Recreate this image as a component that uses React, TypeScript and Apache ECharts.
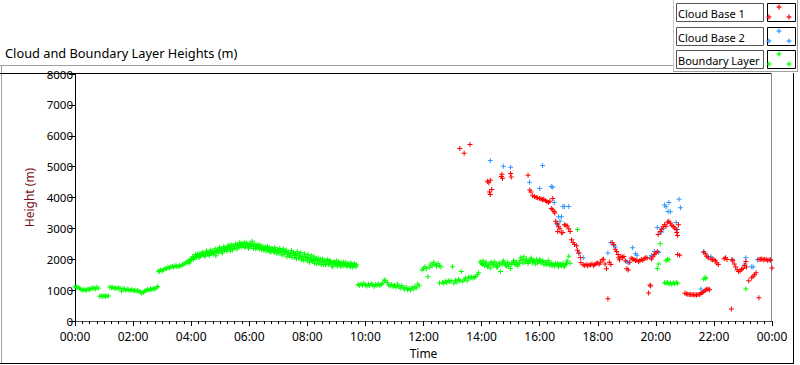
import React, { useEffect, useRef } from "react";
import * as echarts from "echarts";

// [hour of day, height in m]
const boundaryLayer: [number, number][] = [
  [0.0, 1110], [0.05, 1100], [0.1, 1090], [0.15, 1060], [0.2, 1040], [0.25, 1000], [0.3, 1020], [0.35, 990], [0.4, 1010], [0.45, 1030],
  [0.5, 1020], [0.55, 1050], [0.6, 1060], [0.65, 1070], [0.7, 1040], [0.75, 1090], [0.8, 1060],
  [0.85, 800], [0.9, 810], [0.95, 800], [1.0, 810], [1.05, 800], [1.1, 810], [1.15, 810],
  [1.2, 1100], [1.25, 1080], [1.3, 1090], [1.35, 1060], [1.4, 1070], [1.45, 1050], [1.5, 1070], [1.55, 1060], [1.6, 960], [1.65, 1050],
  [1.7, 1040], [1.75, 1000], [1.8, 1030], [1.85, 1010], [1.9, 990], [1.95, 1020], [2.0, 980], [2.05, 1000], [2.1, 970], [2.15, 990],
  [2.2, 960], [2.25, 940], [2.3, 900], [2.35, 930], [2.4, 970], [2.45, 990], [2.5, 1020], [2.55, 1000], [2.6, 1040], [2.65, 1010],
  [2.7, 1060], [2.75, 1040], [2.8, 1080], [2.85, 1120],
  [2.87, 1620], [2.9, 1600], [2.95, 1650], [3.0, 1620], [3.05, 1660], [3.1, 1700], [3.15, 1690], [3.2, 1740], [3.25, 1720], [3.3, 1760],
  [3.35, 1770], [3.4, 1740], [3.45, 1790], [3.5, 1770], [3.55, 1760], [3.6, 1800], [3.65, 1780], [3.7, 1820], [3.75, 1850], [3.8, 1880],
  [3.85, 1900], [3.9, 1950], [3.95, 1920], [4.0, 2000], [4.05, 2080], [4.1, 2050], [4.15, 2150], [4.2, 2120], [4.25, 2100], [4.3, 2170],
  [4.35, 2140], [4.4, 2200], [4.45, 2120], [4.5, 2180], [4.55, 2230], [4.6, 2160], [4.65, 2250], [4.7, 2190], [4.75, 2270], [4.8, 2220],
  [4.85, 2110], [4.9, 2300], [4.95, 2260], [5.0, 2330], [5.05, 2240], [5.1, 2350], [5.15, 2290], [5.2, 2380], [5.25, 2320], [5.3, 2410],
  [5.35, 2270], [5.4, 2360], [5.45, 2440], [5.5, 2350], [5.55, 2420], [5.6, 2480], [5.65, 2390], [5.7, 2460], [5.75, 2510], [5.8, 2430],
  [5.85, 2380], [5.9, 2530], [5.95, 2450], [6.0, 2400], [6.05, 2470], [6.1, 2580], [6.15, 2350], [6.2, 2440], [6.25, 2390], [6.3, 2480],
  [6.35, 2330], [6.4, 2420], [6.45, 2360], [6.5, 2300], [6.55, 2400], [6.6, 2340], [6.65, 2280], [6.7, 2380], [6.75, 2260], [6.8, 2330],
  [6.85, 2220], [6.9, 2300], [6.95, 2180], [7.0, 2270], [7.05, 2350], [7.1, 2200], [7.15, 2290], [7.2, 2160], [7.25, 2250], [7.3, 2080],
  [7.35, 2210], [7.4, 2130], [7.45, 2280], [7.5, 2180], [7.55, 2060], [7.6, 2150], [7.65, 2250], [7.7, 2040], [7.75, 2120], [7.8, 1980],
  [7.85, 2090], [7.9, 2180], [7.95, 2020], [8.0, 1940], [8.05, 2060], [8.1, 1990], [8.15, 2110], [8.2, 1960], [8.25, 1870], [8.3, 2030],
  [8.35, 1950], [8.4, 1880], [8.45, 2000], [8.5, 1920], [8.55, 1820], [8.6, 1960], [8.65, 1880], [8.7, 1990], [8.75, 1860], [8.8, 1920],
  [8.85, 1780], [8.9, 1900], [8.95, 1840], [9.0, 1950], [9.05, 1810], [9.1, 1880], [9.15, 1760], [9.2, 1850], [9.25, 1900], [9.3, 1820],
  [9.35, 1770], [9.4, 1860], [9.45, 1800], [9.5, 1880], [9.55, 1740], [9.6, 1830], [9.65, 1790], [9.7, 1820],
  [9.75, 1180], [9.8, 1150], [9.85, 1200], [9.9, 1160], [9.95, 1220], [10.0, 1170], [10.05, 1130], [10.1, 1190], [10.15, 1150], [10.2, 1210],
  [10.25, 1170], [10.3, 1120], [10.35, 1180], [10.4, 1160], [10.45, 1200], [10.5, 1140], [10.55, 1190], [10.6, 1230], [10.65, 1330], [10.7, 1300],
  [10.75, 1250], [10.8, 1170], [10.85, 1130], [10.9, 1180], [10.95, 1110], [11.0, 1150], [11.05, 1090], [11.1, 1200], [11.15, 1120], [11.2, 1060],
  [11.25, 1150], [11.3, 1080], [11.35, 1030], [11.4, 1100], [11.45, 1010], [11.5, 1050], [11.55, 1000], [11.6, 1080], [11.65, 1040], [11.7, 1120],
  [11.75, 1070], [11.8, 1200], [11.85, 1140], [11.95, 1650], [12.0, 1700], [12.05, 1760], [12.1, 1690], [12.15, 1430], [12.2, 1740], [12.25, 1850],
  [12.3, 1780], [12.35, 1900], [12.4, 1830], [12.45, 1770], [12.5, 1860], [12.55, 1800], [12.6, 1750], [12.55, 1230], [12.65, 1250], [12.7, 1220],
  [12.75, 1290], [12.8, 1240], [12.85, 1310], [12.9, 1270], [12.95, 1300], [13.0, 1760], [13.05, 1220], [13.1, 1320], [13.15, 1260], [13.2, 1350],
  [13.25, 1300], [13.3, 1600], [13.35, 1280], [13.4, 1340], [13.45, 1390], [13.5, 1300], [13.55, 1420], [13.6, 1400], [13.65, 1420], [13.7, 1390],
  [13.75, 1410], [13.8, 1440], [13.85, 1500], [13.9, 1560], [13.95, 1920], [14.0, 1860], [14.05, 1950], [14.1, 1800], [14.15, 1900], [14.2, 1760],
  [14.25, 1840], [14.3, 1720], [14.35, 1880], [14.4, 1790], [14.45, 1920], [14.5, 1850], [14.55, 1760], [14.6, 1890], [14.65, 1600], [14.7, 1820],
  [14.75, 1950], [14.8, 1870], [14.85, 1780], [14.9, 1900], [14.95, 1840], [15.0, 1700], [15.05, 1880], [15.1, 1950], [15.15, 1820], [15.2, 1900],
  [15.25, 1780], [15.3, 1870], [15.35, 2050], [15.4, 1980], [15.45, 2080], [15.5, 1900], [15.55, 2010], [15.6, 1860], [15.65, 1950], [15.7, 2040],
  [15.75, 1890], [15.8, 1970], [15.85, 1850], [15.9, 2000], [15.95, 1930], [16.0, 1980], [16.05, 1880], [16.1, 1950], [16.15, 1820], [16.2, 1900],
  [16.25, 1850], [16.3, 1960], [16.35, 1800], [16.4, 1870], [16.45, 1830], [16.5, 1780], [16.55, 1860], [16.6, 1810], [16.65, 1760], [16.7, 1850],
  [16.75, 1790], [16.8, 1870], [16.85, 1760], [16.9, 1830], [16.95, 1950], [17.0, 2100], [17.05, 1870], [17.3, 2960],
  [20.05, 1700], [20.1, 1850], [20.15, 2500], [20.35, 1950], [20.4, 2000], [20.45, 1980],
  [20.3, 1240], [20.35, 1220], [20.4, 1250], [20.45, 1200], [20.5, 1230], [20.55, 1190], [20.6, 1240], [20.65, 1210], [20.7, 1250], [20.75, 1220],
  [21.65, 1350], [21.7, 1420], [21.72, 1380], [23.1, 1040],
];

// second, interleaved set of boundary-layer retrievals (the scattered band)
const boundaryLayerScatter: [number, number][] = [
  [3.925, 1870], [3.975, 1980], [4.025, 2020], [4.075, 1990], [4.125, 2090], [4.175, 2060], [4.225, 2180], [4.275, 2050], [4.325, 2110],
  [4.375, 2230], [4.425, 2180], [4.475, 2090], [4.525, 2270], [4.575, 2200], [4.625, 2120], [4.675, 2300], [4.725, 2230], [4.775, 2160],
  [4.825, 2340], [4.875, 2250], [4.925, 2200], [4.975, 2380], [5.025, 2290], [5.075, 2200], [5.125, 2410], [5.175, 2330], [5.225, 2260],
  [5.275, 2450], [5.325, 2370], [5.375, 2480], [5.425, 2300], [5.475, 2400], [5.525, 2500], [5.575, 2330], [5.625, 2440], [5.675, 2540],
  [5.725, 2400], [5.775, 2460], [5.825, 2550], [5.875, 2420], [5.925, 2490], [5.975, 2360], [6.025, 2520], [6.075, 2410], [6.125, 2460],
  [6.175, 2500], [6.225, 2330], [6.275, 2430], [6.325, 2380], [6.375, 2460], [6.425, 2310], [6.475, 2400], [6.525, 2350], [6.575, 2270],
  [6.625, 2420], [6.675, 2310], [6.725, 2230], [6.775, 2360], [6.825, 2290], [6.875, 2380], [6.925, 2250], [6.975, 2320], [7.025, 2210],
  [7.075, 2280], [7.125, 2140], [7.175, 2330], [7.225, 2230], [7.275, 2300], [7.325, 2170], [7.375, 2100], [7.425, 2200], [7.475, 2060],
  [7.525, 2230], [7.575, 2120], [7.625, 2020], [7.675, 2190], [7.725, 2100], [7.775, 2220], [7.825, 2050], [7.875, 1960], [7.925, 2100],
  [7.975, 2040], [8.025, 2150], [8.075, 1900], [8.125, 2040], [8.175, 1930], [8.225, 2080], [8.275, 1990], [8.325, 1850], [8.375, 2040],
  [8.425, 1930], [8.475, 1830], [8.525, 2010], [8.575, 1900], [8.625, 1820], [8.675, 1950], [8.725, 1830], [8.775, 1960], [8.825, 1870],
  [8.875, 1760], [8.925, 1920], [8.975, 1860], [9.025, 1780], [9.075, 1920], [9.125, 1830], [9.175, 1880], [9.225, 1780], [9.275, 1840],
  [9.325, 1900], [9.375, 1800], [9.425, 1850], [9.475, 1750], [9.525, 1840], [9.575, 1790], [9.625, 1860], [9.675, 1760],
  [14.025, 1830], [14.125, 1880], [14.225, 1780], [14.325, 1900], [14.425, 1820], [14.525, 1740], [14.625, 1850], [14.725, 1900],
  [14.825, 1810], [14.925, 1760], [15.025, 1850], [15.125, 1910], [15.225, 1830], [15.325, 1950], [15.425, 1880], [15.525, 1960],
  [15.625, 1920], [15.725, 1990], [15.825, 1930], [15.925, 1880], [16.025, 1960], [16.125, 1900], [16.225, 1830], [16.325, 1880],
  [16.425, 1790], [16.525, 1830], [16.625, 1870], [16.725, 1820], [16.825, 1800], [16.925, 1880],
];

const cloudBase1: [number, number][] = [
  [13.25, 5590], [13.4, 5430], [13.6, 5720],
  [14.2, 4530], [14.25, 4480], [14.3, 4560], [14.35, 4260], [14.3, 4100], [14.27, 4180],
  [14.7, 4750], [14.72, 4620], [14.68, 4680], [15.0, 4780], [15.02, 4660],
  [15.6, 4720], [15.66, 4240], [15.7, 4180], [15.76, 4060], [15.82, 4030], [15.88, 4000], [15.93, 3990], [16.0, 3970], [16.05, 3950],
  [16.1, 3930], [16.14, 3940], [16.2, 3900], [16.25, 3870], [16.3, 3840], [16.35, 3880], [16.45, 3970], [16.4, 3640], [16.45, 3600],
  [16.5, 3550], [16.52, 3500], [16.55, 3230], [16.6, 3150], [16.65, 3050], [16.7, 2990], [16.62, 2900], [16.75, 2860], [16.8, 2870],
  [16.85, 3120], [16.9, 3100], [16.95, 3080], [17.0, 2990], [17.05, 2900], [17.1, 2630], [17.15, 2540], [17.2, 2480], [17.27, 2440],
  [17.3, 2290], [17.35, 2200], [17.4, 2060], [17.42, 1890], [17.5, 1820], [17.55, 1800], [17.6, 1830], [17.65, 1790], [17.7, 1820],
  [17.75, 1810], [17.8, 1850], [17.85, 1800], [17.9, 1830], [17.95, 1870], [18.0, 1880], [18.05, 1840], [18.1, 1900], [18.15, 1980],
  [18.2, 2000], [18.25, 1850], [18.3, 1690], [18.35, 720], [18.4, 1900], [18.45, 1830], [18.5, 2540], [18.55, 2480], [18.6, 2320],
  [18.65, 2250], [18.7, 2150], [18.72, 2050], [18.75, 1980], [18.8, 2100], [18.85, 2060], [18.9, 2090], [18.95, 1950], [19.0, 1690],
  [19.05, 1650], [19.1, 1900], [19.15, 2030], [19.2, 2010], [19.25, 1990], [19.3, 1960], [19.35, 1970], [19.4, 1930], [19.45, 1950],
  [19.5, 1990], [19.55, 1970], [19.6, 2020], [19.65, 2050], [19.7, 2040], [19.75, 910], [19.8, 1170], [19.82, 1130], [19.85, 2010],
  [19.9, 2080], [19.95, 2150], [20.0, 2200], [20.05, 2250], [20.08, 2800], [20.15, 2900], [20.2, 2980], [20.25, 3050], [20.3, 3120],
  [20.35, 3070], [20.4, 3200], [20.45, 3230], [20.5, 3170], [20.55, 3100], [20.6, 3060], [20.65, 3010], [20.7, 2960], [20.72, 2870],
  [20.75, 2770], [20.78, 3120], [20.75, 2150], [20.82, 2130],
  [21.0, 900], [21.05, 880], [21.1, 870], [21.15, 860], [21.2, 860], [21.25, 850], [21.3, 850], [21.35, 850], [21.4, 840], [21.45, 860],
  [21.5, 860], [21.55, 880], [21.6, 920], [21.65, 950], [21.7, 1000], [21.75, 1030], [21.8, 1040], [21.85, 1010],
  [21.65, 2230], [21.7, 2180], [21.75, 2100], [21.8, 2050], [21.9, 2000], [21.95, 1980], [22.0, 1990], [22.05, 1950], [22.1, 1880],
  [22.15, 1830], [22.35, 2020], [22.4, 2050], [22.45, 1990], [22.6, 390], [22.62, 1980], [22.65, 1950], [22.7, 1850], [22.75, 1750],
  [22.8, 1660], [22.85, 1600], [22.9, 1620], [22.95, 1680], [23.0, 1700], [23.05, 1800], [23.1, 1930], [23.12, 1750], [23.2, 1300],
  [23.3, 1400], [23.35, 1450], [23.4, 1500], [23.45, 1560], [23.55, 750], [23.55, 1990], [23.6, 2000], [23.65, 2010], [23.7, 1980],
  [23.75, 2000], [23.8, 1990], [23.85, 1960], [23.9, 1980], [23.95, 1970], [24.0, 1720],
];

const cloudBase2: [number, number][] = [
  [14.3, 5200], [14.75, 5010], [15.0, 4980], [16.1, 5040], [15.65, 4490], [16.0, 4290], [16.4, 4360], [16.45, 4330], [16.5, 3840],
  [16.8, 3710], [16.85, 3710], [17.0, 3710], [16.65, 3380], [16.75, 3380], [16.7, 3230], [16.6, 3150], [16.62, 3120], [17.35, 2200],
  [17.5, 2050], [18.35, 2200], [18.45, 2540], [18.55, 2450], [18.6, 2400], [19.0, 1930], [19.05, 1880], [19.2, 2370], [19.3, 2180],
  [19.35, 2130], [19.8, 2050], [19.85, 2120], [19.95, 2250], [20.1, 2220], [20.05, 3030], [20.15, 2900], [20.2, 2880], [20.25, 2990],
  [20.35, 3700], [20.3, 3760], [20.45, 3840], [20.5, 3540], [20.42, 3550], [20.8, 3940], [20.85, 3670], [20.7, 3190], [20.75, 2960],
  [21.55, 1040], [21.65, 2250], [21.8, 2090], [21.9, 2080], [22.65, 1980], [23.1, 2050], [23.07, 1850], [23.3, 1760], [23.35, 1750],
  [23.5, 1980], [23.95, 1980],
];

const seriesNames = ["Cloud Base 1", "Cloud Base 2", "Boundary Layer"];
const seriesColors = ["#ff0000", "#3399ff", "#00ff00"];
const yTicks = [0, 1000, 2000, 3000, 4000, 5000, 6000, 7000, 8000];

const PLUS = "path://M2,0H3V2H5V3H3V5H2V3H0V2H2Z";
const FONT = "Noto Sans";

export default function App() {
  const ref = useRef<HTMLDivElement>(null);
  useEffect(() => {
    document.body.style.margin = "0";
    const chart = echarts.init(ref.current!, null, { renderer: "svg" });

    const legendGraphics: any[] = [];
    const boxY = [3, 27, 50];
    seriesNames.forEach((name, i) => {
      const y0 = boxY[i];
      legendGraphics.push(
        { type: "rect", z: 10, shape: { x: 676.5, y: y0 + 0.5, width: 87, height: 18 }, style: { fill: "#fff", stroke: "#555", lineWidth: 1 } },
        { type: "text", z: 11, x: 678, y: y0 + 10, style: { text: name, font: `11px "${FONT}"`, fill: "#000", verticalAlign: "middle" } },
        { type: "rect", z: 10, shape: { x: 767.5, y: y0 + 0.5, width: 28, height: 18 }, style: { fill: "#fff", stroke: "#000", lineWidth: 1 } }
      );
      const pts = [[779, y0 + 4], [769, y0 + 14], [789, y0 + 14]];
      pts.forEach(([px, py]) => {
        legendGraphics.push({
          type: "polygon",
          z: 12,
          shape: {
            points: [
              [px - 0.5, py - 2.2], [px + 0.5, py - 2.2], [px + 0.5, py - 0.5], [px + 2.2, py - 0.5], [px + 2.2, py + 0.5],
              [px + 0.5, py + 0.5], [px + 0.5, py + 2.2], [px - 0.5, py + 2.2], [px - 0.5, py + 0.5], [px - 2.2, py + 0.5],
              [px - 2.2, py - 0.5], [px - 0.5, py - 0.5],
            ],
          },
          style: { fill: seriesColors[i], stroke: seriesColors[i], lineWidth: 0.3 },
        });
      });
    });

    const frame: any[] = [
      { type: "line", shape: { x1: 0, y1: 65.5, x2: 673, y2: 65.5 }, style: { stroke: "#a0a0a0", lineWidth: 1 } },
      { type: "line", shape: { x1: 1.5, y1: 65, x2: 1.5, y2: 364 }, style: { stroke: "#a0a0a0", lineWidth: 1 } },
      { type: "line", shape: { x1: 0, y1: 363.5, x2: 794, y2: 363.5 }, style: { stroke: "#000", lineWidth: 1 } },
      { type: "line", shape: { x1: 793.5, y1: 73, x2: 793.5, y2: 364 }, style: { stroke: "#000", lineWidth: 1 } },
      { type: "line", shape: { x1: 673.5, y1: 0, x2: 673.5, y2: 72 }, style: { stroke: "#c8c8c8", lineWidth: 1 } },
      { type: "line", shape: { x1: 673, y1: 71.5, x2: 798, y2: 71.5 }, style: { stroke: "#a0a0a0", lineWidth: 1 } },
      { type: "line", shape: { x1: 797.5, y1: 0, x2: 797.5, y2: 72 }, style: { stroke: "#a0a0a0", lineWidth: 1 } },
      { type: "line", shape: { x1: 0, y1: 73.5, x2: 772, y2: 73.5 }, style: { stroke: "#000", lineWidth: 1 } },
      { type: "line", shape: { x1: 771.5, y1: 73, x2: 771.5, y2: 322 }, style: { stroke: "#8a8a8a", lineWidth: 1 } },
      { type: "text", x: 5, y: 53, style: { text: "Cloud and Boundary Layer Heights (m)", font: `12.8px "${FONT}"`, fill: "#000", verticalAlign: "middle" } },
    ];

    const mk = (name: string, data: [number, number][], color: string) => ({
      name,
      type: "scatter",
      data,
      symbol: PLUS,
      symbolSize: 5,
      itemStyle: { color, opacity: 1 },
      emphasis: { disabled: true },
    });

    chart.setOption({
      animation: false,
      textStyle: { fontFamily: FONT },
      grid: { left: 75, right: 28, top: 74, bottom: 44, containLabel: false },
      xAxis: {
        type: "value",
        min: 0,
        max: 24,
        interval: 2,
        name: "Time",
        nameLocation: "middle",
        nameGap: 26,
        nameTextStyle: { fontSize: 12, color: "#000", fontFamily: FONT },
        axisLine: { show: true, onZero: false, lineStyle: { color: "#555", width: 1 } },
        axisTick: { show: true, length: 5, lineStyle: { color: "#000" } },
        minorTick: { show: true, splitNumber: 8, length: 3, lineStyle: { color: "#000" } },
        splitLine: { show: false },
        axisLabel: {
          fontSize: 12,
          color: "#000",
          margin: 9,
          fontFamily: FONT,
          formatter: (v: number) => {
            const h = v % 24;
            return (h < 10 ? "0" : "") + h + ":00";
          },
        },
      },
      yAxis: {
        type: "value",
        min: yTicks[0],
        max: yTicks[yTicks.length - 1],
        interval: 1000,
        name: "Height (m)",
        nameLocation: "middle",
        nameGap: 40,
        nameTextStyle: { fontSize: 12, color: "#7a1020", fontFamily: FONT },
        axisLine: { show: true, lineStyle: { color: "#000", width: 1 } },
        axisTick: { show: true, length: 6, lineStyle: { color: "#000" } },
        splitLine: { show: false },
        axisLabel: { fontSize: 11.5, color: "#000", margin: 2, fontFamily: FONT, formatter: (v: number) => String(v) },
      },
      graphic: [...frame, ...legendGraphics],
      series: [
        mk("Boundary Layer", boundaryLayer, seriesColors[2]),
        mk("Boundary Layer (scatter)", boundaryLayerScatter, seriesColors[2]),
        mk("Cloud Base 2", cloudBase2, seriesColors[1]),
        mk("Cloud Base 1", cloudBase1, seriesColors[0]),
      ],
    });
    return () => chart.dispose();
  }, []);
  return <div ref={ref} style={{ width: 800, height: 365 }} />;
}
